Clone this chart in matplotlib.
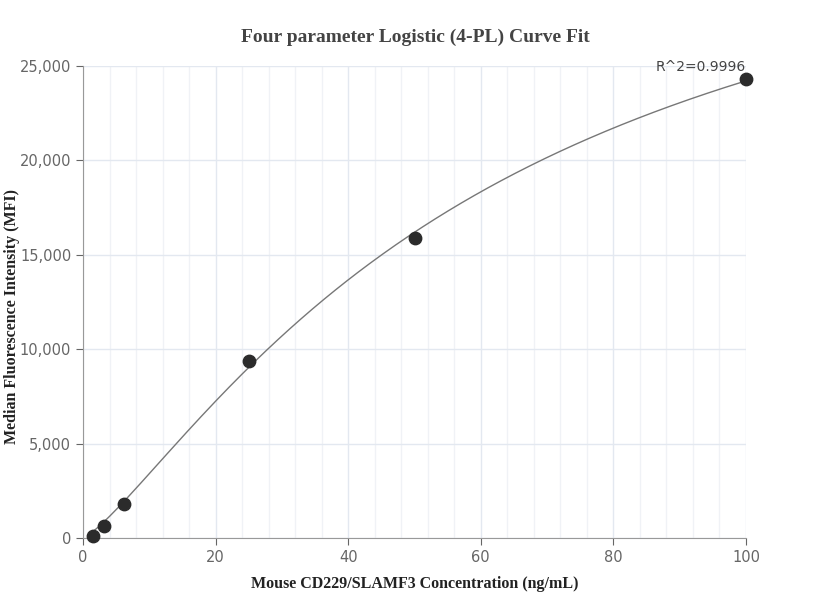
import numpy as np
import matplotlib
matplotlib.use("Agg")
import matplotlib.pyplot as plt
from matplotlib.ticker import FuncFormatter, MultipleLocator

conc = [1.5625, 3.125, 6.25, 25, 50, 100]
mfi = [130, 620, 1800, 9400, 15900, 24300]
r2_text = "R^2=0.9996"

x = np.array(conc, float); y = np.array(mfi, float)
best = None
for b in np.linspace(0.8, 2.0, 61):
    for c in np.geomspace(10, 500, 200):
        f = (x / c) ** b / (1 + (x / c) ** b)
        d = (y @ f) / (f @ f)
        e = np.sum((y - d * f) ** 2)
        if best is None or e < best[0]:
            best = (e, b, c, d)
_, b, c, d = best
xs = np.linspace(x.min(), x.max(), 400)
ys = d * (xs / c) ** b / (1 + (xs / c) ** b)

fig = plt.figure(figsize=(8.3, 6.16), dpi=100)
ax = fig.add_axes([83/830, 1-538/616, 663/830, 472/616])
ax.plot(xs, ys, color="#777777", lw=1)
ax.scatter(conc, mfi, s=80, color="#2b2b2b", zorder=3, clip_on=False)
ax.set_xlim(0, 100); ax.set_ylim(0, 25000)
ax.xaxis.set_major_locator(MultipleLocator(20))
ax.xaxis.set_minor_locator(MultipleLocator(4))
ax.yaxis.set_major_locator(MultipleLocator(5000))
ax.yaxis.set_major_formatter(FuncFormatter(lambda v, p: f"{int(v):,}"))
ax.grid(which="major", color="#e3e8f0", lw=1)
ax.grid(which="minor", axis="x", color="#f0f2f6", lw=1)
ax.set_axisbelow(True)
for s in ["top", "right"]:
    ax.spines[s].set_visible(False)
for s in ["left", "bottom"]:
    ax.spines[s].set_color("#999999")
ax.tick_params(which="major", colors="#666666", labelsize=10.5, length=5)
ax.tick_params(which="minor", length=0)
ax.set_xlabel("Mouse CD229/SLAMF3 Concentration (ng/mL)", family="Liberation Serif",
              fontweight="bold", fontsize=11.5, color="#222222", labelpad=8)
fig.text(12/830, 300/616, "Median Fluorescence Intensity (MFI)", rotation=90, ha="center",
         va="center", family="Liberation Serif", fontweight="bold", fontsize=11.5, color="#222222")
fig.text(415/830, 1-37/616, "Four parameter Logistic (4-PL) Curve Fit", ha="center", va="center",
         family="Liberation Serif", fontweight="bold", fontsize=14, color="#444444")
ax.text(100, 24300 + 300, r2_text, ha="right", va="bottom", fontsize=10, color="#444444")
fig.savefig("out.png", dpi=100)
